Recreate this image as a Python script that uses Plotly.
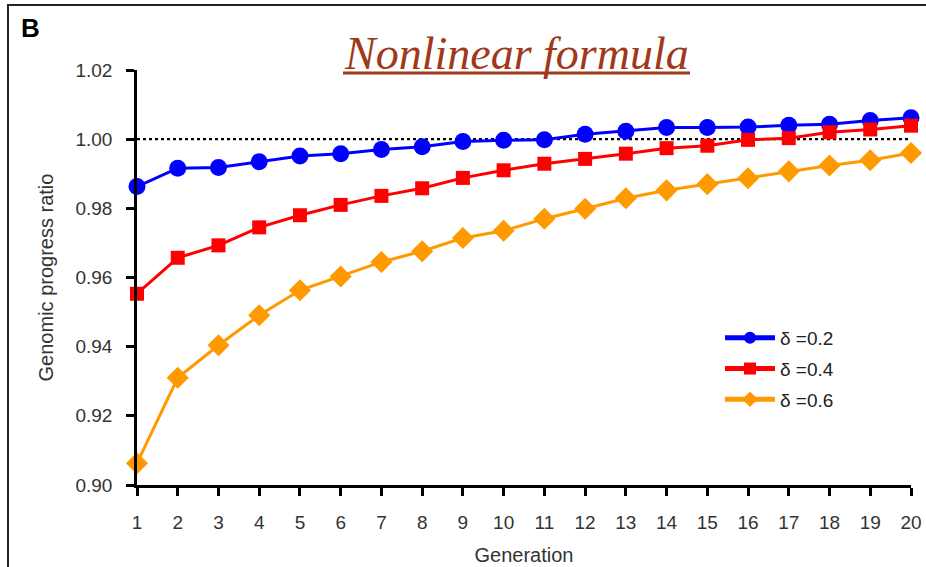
import plotly.graph_objects as go

generations = list(range(1, 21))
series_names = ["δ =0.2", "δ =0.4", "δ =0.6"]
delta_02 = [0.9863, 0.9916, 0.9918, 0.9935, 0.9951, 0.9958, 0.9970, 0.9978, 0.9993, 0.9997,
            0.9998, 1.0014, 1.0023, 1.0034, 1.0034, 1.0035, 1.0040, 1.0043, 1.0054, 1.0062]
delta_04 = [0.9553, 0.9657, 0.9693, 0.9745, 0.9780, 0.9810, 0.9836, 0.9858, 0.9888, 0.9910,
            0.9929, 0.9943, 0.9958, 0.9974, 0.9981, 0.9998, 1.0003, 1.0020, 1.0028, 1.0039]
delta_06 = [0.9063, 0.9310, 0.9404, 0.9491, 0.9563, 0.9603, 0.9645, 0.9676, 0.9714, 0.9735,
            0.9770, 0.9799, 0.9829, 0.9852, 0.9870, 0.9887, 0.9907, 0.9924, 0.9939, 0.9960]
reference_line = [1.0, 1.0]
x_ticks = list(range(1, 21))
y_ticks = [0.90, 0.92, 0.94, 0.96, 0.98, 1.00, 1.02]

FONT = "Arial, Liberation Sans, sans-serif"

L, R, T, B = 137, 15, 70, 82
PW, PH = 926 - L - R, 567 - T - B


def px_x(px):
    return (px - L) / PW


def px_y(py):
    return 1 - (py - T) / PH


fig = go.Figure()

fig.add_trace(go.Scatter(x=[generations[0], generations[-1]], y=reference_line, mode="lines",
                         line=dict(color="black", width=2.2, dash="dot"),
                         showlegend=False, hoverinfo="skip"))

styles = [
    dict(color="#0000FF", symbol="circle", size=17, lw=3),
    dict(color="#FF0000", symbol="square", size=14, lw=3),
    dict(color="#FF9900", symbol="diamond", size=17, lw=3),
]
for name, vals, st in zip(series_names, [delta_02, delta_04, delta_06], styles):
    fig.add_trace(go.Scatter(
        x=generations, y=vals, mode="lines+markers", name=name,
        line=dict(color=st["color"], width=st["lw"]),
        marker=dict(color=st["color"], symbol=st["symbol"], size=st["size"]),
        cliponaxis=False, legendgroup=name,
    ))

fig.update_layout(
    width=926, height=567,
    margin=dict(l=L, r=R, t=T, b=B),
    paper_bgcolor="white", plot_bgcolor="white",
    font=dict(family=FONT, size=19, color="#333333"),
    showlegend=True,
    legend=dict(x=px_x(720), y=px_y(319), xanchor="left", yanchor="top",
                bgcolor="rgba(0,0,0,0)", itemsizing="constant", itemwidth=50,
                tracegroupgap=3, font=dict(size=19, color="#222222")),
    xaxis=dict(range=[1, 20], tickmode="array", tickvals=x_ticks,
               ticktext=[str(t) for t in x_ticks], automargin=False,
               showgrid=False, zeroline=False, showline=True,
               linecolor="black", linewidth=2.5, ticks="outside",
               ticklen=8, tickwidth=2.5, tickcolor="black", ticklabelstandoff=10,
               tickfont=dict(size=19, color="#333333"),
               title=dict(text="Generation", font=dict(size=20, color="#333333"), standoff=17)),
    yaxis=dict(range=[0.90, 1.02], tickmode="array", tickvals=y_ticks,
               ticktext=[f"{t:.2f}" for t in y_ticks], automargin=False,
               showgrid=False, zeroline=False, showline=True,
               linecolor="black", linewidth=2.5, ticks="outside",
               ticklen=8, tickwidth=2.5, tickcolor="black", ticklabelstandoff=10,
               tickfont=dict(size=19, color="#333333"),
               title=dict(text="Genomic progress ratio", font=dict(size=20, color="#333333"), standoff=17)),
)

# frame border
fig.add_shape(type="rect", xref="paper", yref="paper",
              x0=px_x(8), x1=px_x(940), y0=px_y(600), y1=px_y(5),
              line=dict(color="#222222", width=2), fillcolor="rgba(0,0,0,0)", layer="below")

fig.add_annotation(text="<b>B</b>", xref="paper", yref="paper",
                   x=px_x(19), y=px_y(28), xanchor="left", yanchor="middle",
                   showarrow=False, font=dict(family=FONT, size=26, color="black"))

fig.add_annotation(text="Nonlinear formula", xref="paper", yref="paper",
                   x=px_x(516), y=px_y(54), xanchor="center", yanchor="middle",
                   showarrow=False,
                   font=dict(family="Liberation Serif, serif", size=46, color="#A0391A",
                             style="italic"))
# title underline
fig.add_shape(type="line", xref="paper", yref="paper",
              x0=px_x(343), x1=px_x(690), y0=px_y(73), y1=px_y(73),
              line=dict(color="#A0391A", width=3))

fig.write_html("out.html")
